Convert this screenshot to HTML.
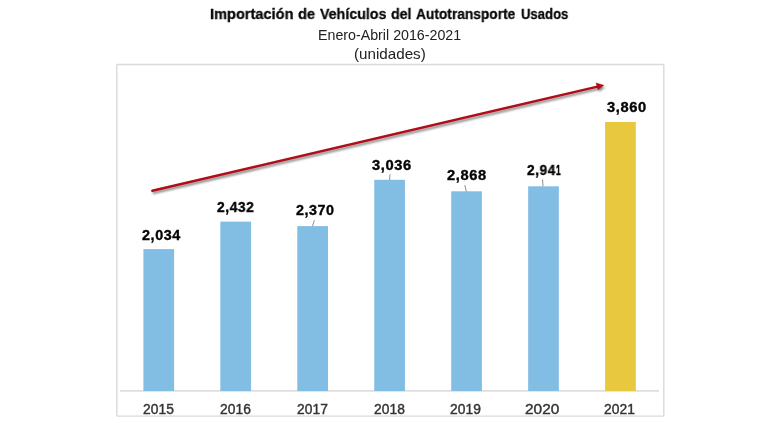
<!DOCTYPE html>
<html>
<head>
<meta charset="utf-8">
<style>
html,body{margin:0;padding:0;background:#fff;}
body{width:780px;height:437px;position:relative;overflow:hidden;font-family:"Liberation Sans",sans-serif;}
.t{position:absolute;white-space:nowrap;line-height:1;transform-origin:0 0;will-change:transform;}
.title{top:5.9px;font-size:15.3px;font-weight:bold;color:#0a0a0a;-webkit-text-stroke:0.3px #050505;}
.sub{left:317.6px;top:27.6px;font-size:14.2px;color:#222;transform:scaleX(1.003);}
.sub2{left:353.6px;top:46.9px;font-size:14.2px;color:#222;transform:scaleX(1.07);}
.lbl{font-size:13.9px;font-weight:bold;color:#050505;letter-spacing:0.55px;-webkit-text-stroke:0.35px #050505;}
.yr{font-size:13.8px;color:#333;letter-spacing:0.05px;top:402.8px;-webkit-text-stroke:0.4px #333;}
</style>
</head>
<body>
<div class="t title" id="w0" style="left:209.9px;transform:scaleX(0.954)">Importación</div>
<div class="t title" id="w1" style="left:298.2px;transform:scaleX(0.96)">de</div>
<div class="t title" id="w2" style="left:319.6px;transform:scaleX(0.930)">Vehículos</div>
<div class="t title" id="w3" style="left:391.3px;transform:scaleX(0.930)">del</div>
<div class="t title" id="w4" style="left:416.2px;transform:scaleX(0.898)">Autotransporte</div>
<div class="t title" id="w5" style="left:521.3px;transform:scaleX(0.857)">Usados</div>
<div class="t sub" id="sub">Enero-Abril 2016-2021</div>
<div class="t sub2" id="sub2">(unidades)</div>



<svg width="780" height="437" style="position:absolute;left:0;top:0">
  <defs>
    <filter id="sh" x="-5%" y="-20%" width="110%" height="150%">
      <feGaussianBlur stdDeviation="0.9"/>
    </filter>
  </defs>
  <rect x="116.8" y="64.5" width="547" height="351.6" fill="none" stroke="#dadada" stroke-width="1.4" rx="0.8"/>
  <rect x="120" y="390.2" width="539" height="1.4" fill="#d6d6d6"/>
  <rect x="143.40" y="249.1" width="30.7" height="141.9" fill="#82bde3"/>
  <rect x="220.35" y="221.6" width="30.7" height="169.4" fill="#82bde3"/>
  <rect x="297.30" y="226.1" width="30.7" height="164.9" fill="#82bde3"/>
  <rect x="374.25" y="179.8" width="30.7" height="211.2" fill="#82bde3"/>
  <rect x="451.20" y="191.3" width="30.7" height="199.7" fill="#82bde3"/>
  <rect x="528.15" y="186.3" width="30.7" height="204.7" fill="#82bde3"/>
  <rect x="605.10" y="122.0" width="30.7" height="269.0" fill="#e7c83f"/>
  <g stroke="#8e8e8e" stroke-width="1" fill="none">
    <path d="M314.4 220.2 L312.5 226.1"/>
    <path d="M390 174.3 L389.6 180"/>
    <path d="M464.8 185.1 L466.3 191.5"/>
    <path d="M542.6 179.5 L543 186.3"/>
  </g>
  <g filter="url(#sh)" opacity="0.7" transform="translate(1.3,2.0)">
    <path d="M152.3 190.8 L597.5 86.6" stroke="#555" stroke-width="2.5" fill="none" stroke-linecap="round"/>
    <path d="M603.8 85.2 L596.0 83.0 L598.0 89.7 Z" fill="#555"/>
  </g>
  <path d="M152.3 190.8 L597.5 86.6" stroke="#b00d18" stroke-width="2.5" fill="none" stroke-linecap="round"/>
  <path d="M603.8 85.2 L596.0 82.9 L598.0 89.8 Z" fill="#b00d18" stroke="#b00d18" stroke-width="0.4" stroke-linejoin="round"/>
</svg>

<div class="t lbl" id="l0" style="left:141.9px;top:228.6px;transform:scaleX(1.035)">2,034</div>
<div class="t lbl" id="l1" style="left:216.9px;top:200.9px;transform:scaleX(0.995)">2,432</div>
<div class="t lbl" id="l2" style="left:296.1px;top:203.9px;transform:scaleX(1.030)">2,370</div>
<div class="t lbl" id="l3" style="left:372.3px;top:158.7px;transform:scaleX(1.058)">3,036</div>
<div class="t lbl" id="l4" style="left:446.9px;top:168.6px;transform:scaleX(1.058)">2,868</div>
<div class="t lbl" id="l5" style="left:527.2px;top:163.9px;transform:scaleX(0.983)">2,94</div>
<div class="t lbl" id="l5b" style="left:556.2px;top:163.9px;transform:scaleX(0.58);-webkit-text-stroke:0.7px #050505">1</div>
<div class="t lbl" id="l6" style="left:606.5px;top:101.1px;transform:scaleX(1.058)">3,860</div>

<div class="t yr" id="y0" style="left:142.8px">2015</div>
<div class="t yr" id="y1" style="left:219.8px">2016</div>
<div class="t yr" id="y2" style="left:296.8px">2017</div>
<div class="t yr" id="y3" style="left:373.8px">2018</div>
<div class="t yr" id="y4" style="left:450.1px">2019</div>
<div class="t yr" id="y5" style="left:525.2px;transform:scaleX(1.115)">2020</div>
<div class="t yr" id="y6" style="left:604.4px">2021</div>
</body>
</html>
